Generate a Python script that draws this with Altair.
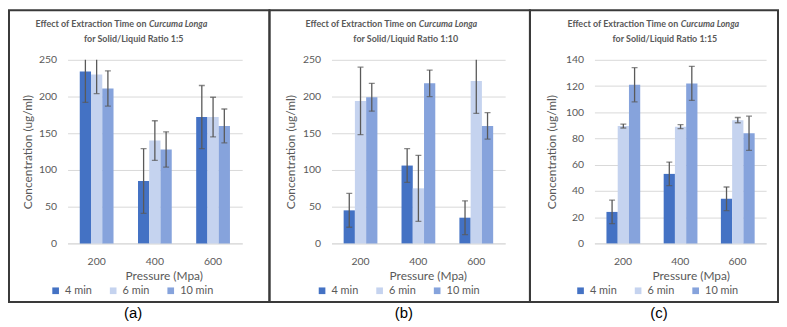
import altair as alt
import pandas as pd

PRESSURE = ["200", "400", "600"]
TIMES = ["4 min", "6 min", "10 min"]
COLORS = ["#4472C4", "#c5d3ef", "#86a3dc"]

# Panel (a) Solid/Liquid 1:5
A_4 = [234, 85, 172]
A_4_ERR = [42, 44, 43]
A_6 = [230, 140, 172]
A_6_ERR = [26, 27, 27]
A_10 = [211, 128, 160]
A_10_ERR = [24, 24, 23]

# Panel (b) Solid/Liquid 1:10
B_4 = [45, 106, 35]
B_4_ERR = [23, 23, 23]
B_6 = [194, 75, 221]
B_6_ERR = [46, 45, 44]
B_10 = [199, 218, 160]
B_10_ERR = [19, 18, 18]

# Panel (c) Solid/Liquid 1:15
C_4 = [24, 53, 34]
C_4_ERR = [9, 9, 9]
C_6 = [89.5, 89, 94]
C_6_ERR = [1.5, 1.5, 2]
C_10 = [121, 122, 84]
C_10_ERR = [13, 13, 13]

Y_TITLE = "Concentration (ug/ml)"
X_TITLE = "Pressure (Mpa)"
TITLE_1 = "Effect of Extraction Time on"
TITLE_IT = "Curcuma Longa"
RATIOS = ["for Solid/Liquid Ratio 1:5", "for Solid/Liquid Ratio 1:10", "for Solid/Liquid Ratio 1:15"]
CAPTIONS = ["(a)", "(b)", "(c)"]

GREY = "#595959"
FONT = "Lato"
H = 185


def make_df(m4, e4, m6, e6, m10, e10):
    rows = []
    for t, ms, es in zip(TIMES, [m4, m6, m10], [e4, e6, e10]):
        for p, m, e in zip(PRESSURE, ms, es):
            rows.append({"pressure": p, "time": t, "value": m, "lo": m - e, "hi": m + e})
    return pd.DataFrame(rows)


def panel(df, domain, step, w, ytx, split, c2, ratio, cap, capx, legx, bx1, bx2):
    one = pd.DataFrame({"k": [0]})
    xscale = alt.Scale(paddingInner=0.42, paddingOuter=0.21)
    xaxis = alt.Axis(title=X_TITLE, labelAngle=0, ticks=False, tickSize=0,
                     domainColor="#d9d9d9", labelColor=GREY, labelFontSize=10.5,
                     labelPadding=13, titleColor=GREY, titleFontSize=12,
                     titleFontWeight="normal", titleX=97, titleY=32.5,
                     titleBaseline="middle", titleAlign="center")
    xenc = alt.X("pressure:N", sort=PRESSURE, scale=xscale, axis=xaxis)
    xo = alt.XOffset("time:N", sort=TIMES, scale=alt.Scale(paddingInner=0, paddingOuter=0))
    ticks_vals = list(range(domain[0], domain[1] + 1, step))
    yscale = alt.Scale(domain=domain, nice=False)
    yaxis = alt.Axis(title=Y_TITLE, values=ticks_vals, ticks=False, tickSize=0,
                     domain=False, gridColor="#d9d9d9", labelColor=GREY,
                     labelOverlap=False,
                     labelFontSize=10.5, labelPadding=11, titleColor=GREY,
                     titleFontSize=12, titleFontWeight="normal", titleX=ytx,
                     titleY=H / 2, titleAngle=270, titleAlign="center",
                     titleBaseline="middle")
    base = alt.Chart(df)
    bars = base.mark_bar().encode(
        x=xenc, xOffset=xo, y=alt.Y("value:Q", scale=yscale, axis=yaxis),
        color=alt.Color("time:N", sort=TIMES,
                        scale=alt.Scale(domain=TIMES, range=COLORS),
                        legend=alt.Legend(title=None, orient="none", legendX=legx, legendY=227,
                                          direction="horizontal", symbolType="square",
                                          symbolSize=45, symbolStrokeWidth=0,
                                          labelFontSize=11, labelColor=GREY,
                                          labelFont=FONT, columnPadding=15, labelOffset=4)))
    err = base.mark_rule(color=GREY, strokeWidth=1.3, clip=True).encode(
        x=xenc, xOffset=xo,
        y=alt.Y("lo:Q", scale=yscale, axis=yaxis), y2="hi:Q")
    cap_hi = base.mark_tick(color=GREY, thickness=1.3, size=6, clip=True).encode(
        x=xenc, xOffset=xo, y=alt.Y("hi:Q", scale=yscale, axis=yaxis))
    cap_lo = base.mark_tick(color=GREY, thickness=1.3, size=6, clip=True).encode(
        x=xenc, xOffset=xo, y=alt.Y("lo:Q", scale=yscale, axis=yaxis))
    dec = alt.Chart(one)
    t1 = dec.mark_text(text=TITLE_1, align="right", baseline="middle", font=FONT,
                       fontSize=9, fontWeight="bold", color=GREY).encode(
        x=alt.value(split - 2.5), y=alt.value(-35.7))
    t1i = dec.mark_text(text=TITLE_IT, align="left", baseline="middle", font=FONT,
                        fontSize=9, fontWeight="bold", fontStyle="italic", color=GREY).encode(
        x=alt.value(split), y=alt.value(-35.7))
    t2 = dec.mark_text(text=ratio, align="center", baseline="middle", font=FONT,
                       fontSize=9, fontWeight="bold", color=GREY).encode(
        x=alt.value(c2), y=alt.value(-21.3))
    capt = dec.mark_text(text=cap, align="center", baseline="middle", font="Liberation Sans",
                         fontSize=15, color="black").encode(
        x=alt.value(capx), y=alt.value(255))
    border = dec.mark_rect(fill="transparent", stroke="#3a3a3a", strokeWidth=2).encode(
        x=alt.value(bx1), x2=alt.value(bx2), y=alt.value(-50), y2=alt.value(244))
    return alt.layer(bars, err, cap_hi, cap_lo, t1, t1i, t2, capt, border).properties(
        width=w, height=H)


pa = panel(make_df(A_4, A_4_ERR, A_6, A_6_ERR, A_10, A_10_ERR), [0, 250], 50, 176, -40,
           82, 66.7, RATIOS[0], CAPTIONS[0], 66, -17.5, -59, 203.5)
pb = panel(make_df(B_4, B_4_ERR, B_6, B_6_ERR, B_10, B_10_ERR), [0, 250], 50, 175, -41,
           88, 74.8, RATIOS[1], CAPTIONS[1], 73, -15, -62.5, 200)
pc = panel(make_df(C_4, C_4_ERR, C_6, C_6_ERR, C_10, C_10_ERR), [0, 140], 20, 173, -43,
           87, 71, RATIOS[2], CAPTIONS[2], 65, -19.5, -65, 185)

chart = alt.hconcat(pa, pb, pc, spacing=90, bounds="flush").resolve_scale(
    color="independent", y="independent").resolve_legend(color="independent").configure(
    font=FONT).configure_view(stroke=None).properties(padding=0)

chart.save("out.html", embed_options={"renderer": "svg", "actions": False})
